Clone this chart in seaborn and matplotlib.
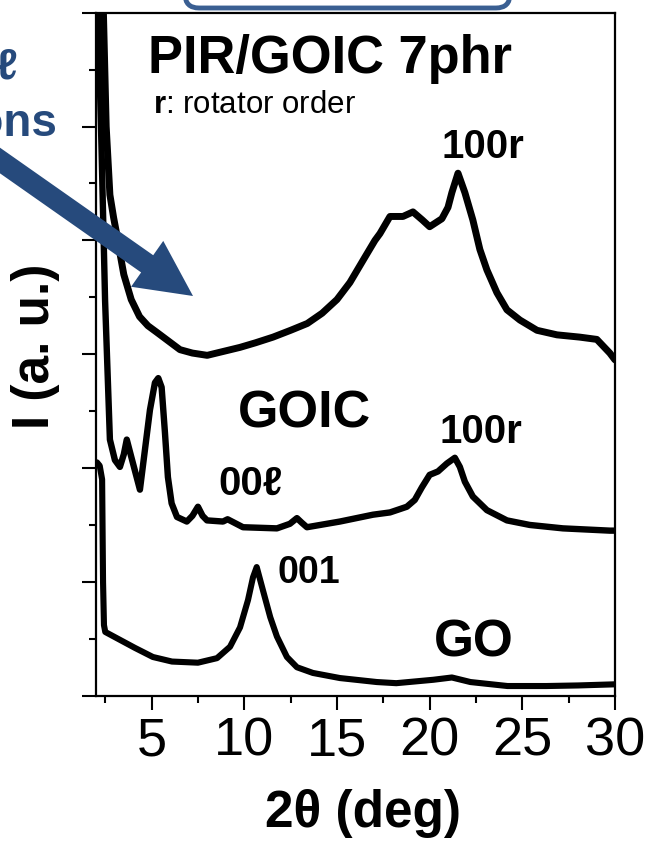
import matplotlib
matplotlib.use("Agg")
import matplotlib.pyplot as plt
import matplotlib.transforms as mtransforms
from matplotlib.patches import FancyBboxPatch, Polygon
from matplotlib.ticker import MultipleLocator, NullFormatter
import numpy as np
import pandas as pd
import seaborn as sns

# ---------------- data ----------------
go_x = [2.05, 2.2, 2.33, 2.38, 2.43, 2.5, 3.3, 4.1, 5.07, 6.1, 7.5, 8.53, 9.23, 9.77,
        10.2, 10.47, 10.67, 11.0, 11.4, 11.76, 12.3, 12.84, 13.7, 15.16, 17.15, 18.2,
        20.2, 21.2, 22.2, 24.2, 26.3, 28.0, 30.0]
go_y = [2.05, 2.02, 1.9, 1.0, 0.62, 0.56, 0.49, 0.42, 0.34, 0.30, 0.29, 0.33, 0.43, 0.60,
        0.84, 1.04, 1.13, 0.93, 0.69, 0.52, 0.34, 0.25, 0.20, 0.155, 0.12, 0.11,
        0.14, 0.16, 0.12, 0.085, 0.085, 0.09, 0.10]

goic_x = [2.05, 2.11, 2.3, 2.49, 2.75, 3.02, 3.29, 3.5, 3.66, 3.9, 4.37, 4.64, 4.91, 5.18,
          5.36, 5.54, 5.72, 5.88, 6.08, 6.37, 6.9, 7.2, 7.5, 7.75, 7.99, 8.85, 9.1, 9.93,
          11.76, 12.46, 12.84, 13.1, 13.38, 15.16, 16.94, 17.86, 18.77, 19.2, 19.58, 20.0,
          20.45, 20.93, 21.36, 21.63, 21.9, 22.33, 23.09, 24.17, 25.4, 27.19, 29.72, 30.0]
goic_y = [7.0, 6.0, 4.8, 3.47, 2.25, 2.07, 2.01, 2.12, 2.25, 2.1, 1.81, 2.16, 2.51, 2.75,
          2.79, 2.71, 2.31, 1.92, 1.69, 1.57, 1.53, 1.58, 1.66, 1.58, 1.54, 1.53, 1.55, 1.48,
          1.47, 1.51, 1.56, 1.52, 1.48, 1.53, 1.59, 1.61, 1.66, 1.72, 1.83, 1.94,
          1.97, 2.04, 2.09, 2.01, 1.88, 1.75, 1.63, 1.54, 1.50, 1.47, 1.45, 1.45]

pir_x = [2.3, 2.4, 2.55, 2.75, 2.95, 3.1, 3.3, 3.5, 3.9, 4.35, 4.8, 5.3, 6.53, 7.2, 8.0,
         9.77, 10.6, 11.55, 12.5, 13.4, 14.2, 15.0, 15.7, 16.5, 17.05, 17.32, 17.86,
         18.56, 19.1, 19.6, 20.0, 20.66, 20.99, 21.2, 21.53, 21.9, 22.33, 22.71, 23.09,
         23.63, 24.17, 24.87, 25.79, 26.87, 28.1, 29.02, 29.72, 30.0]
pir_y = [7.0, 6.0, 5.0, 4.4, 4.2, 4.07, 3.88, 3.7, 3.48, 3.33, 3.25, 3.19, 3.04, 3.01, 2.99,
         3.06, 3.1, 3.15, 3.21, 3.27, 3.36, 3.48, 3.63, 3.85, 4.0, 4.06, 4.21,
         4.21, 4.25, 4.18, 4.12, 4.19, 4.29, 4.42, 4.59, 4.42, 4.18, 3.92, 3.74,
         3.54, 3.39, 3.30, 3.21, 3.17, 3.15, 3.13, 3.01, 2.95]

x_ticks = [5, 10, 15, 20, 25, 30]
x_tick_labels = ["5", "10", "15", "20", "25", "30"]

# ---------------- style ----------------
sns.set_style("ticks")
plt.rcParams["font.family"] = ["Liberation Sans", "DejaVu Sans"]
plt.rcParams["mathtext.fontset"] = "custom"
plt.rcParams["mathtext.bf"] = "Liberation Sans:bold"
plt.rcParams["mathtext.rm"] = "Liberation Sans"
plt.rcParams["text.color"] = "black"
plt.rcParams["axes.labelcolor"] = "black"
plt.rcParams["xtick.color"] = "black"
plt.rcParams["ytick.color"] = "black"

W, H = 646, 841
fig = plt.figure(figsize=(W / 100, H / 100), dpi=100)
ax = fig.add_axes([96 / W, 1 - 695.7 / H, (615 - 96) / W, (695.7 - 12.7) / H])

for xs, ys, lw in [(go_x, go_y, 4.4), (goic_x, goic_y, 4.6), (pir_x, pir_y, 5.0)]:
    df = pd.DataFrame({"x": xs, "y": ys})
    sns.lineplot(data=df, x="x", y="y", ax=ax, color="black", lw=lw,
                 sort=False, estimator=None, solid_joinstyle="round",
                 solid_capstyle="round")

ax.set_xlim(2, 30)
ax.set_ylim(0, 6.0)
ax.set_xticks(x_ticks)
ax.set_xticklabels(x_tick_labels)
ax.xaxis.set_minor_locator(MultipleLocator(2.5))
ax.yaxis.set_major_locator(MultipleLocator(1))
ax.yaxis.set_minor_locator(MultipleLocator(0.5))
ax.yaxis.set_major_formatter(NullFormatter())
ax.tick_params(axis="both", which="major", direction="out", length=10, width=1.5,
               labelsize=39, pad=5, color="black", labelcolor="black")
ax.tick_params(axis="both", which="minor", direction="out", length=5, width=1.5,
               color="black")
for s in ax.spines.values():
    s.set_visible(True)
    s.set_linewidth(1.6)
    s.set_color("black")

ax.set_xlabel("2θ (deg)", fontsize=37, fontweight="bold", color="black")
ax.xaxis.set_label_coords(0.514, -0.137)
ax.set_ylabel("I (a. u.)", fontsize=37, fontweight="bold", color="black")
ax.yaxis.set_label_coords(-0.069, 0.511)

# ---------------- annotations ----------------
ax.text(14.65, 5.472, "PIR/GOIC 7phr", fontsize=37.8, fontweight="bold",
        ha="center", va="baseline", color="black")
ax.text(5.07, 5.12, r"$\mathbf{r}$: rotator order", fontsize=22.5,
        ha="left", va="baseline", color="black")
ax.text(22.87, 4.724, "100r", fontsize=29, fontweight="bold", ha="center",
        va="baseline", color="black")
ax.text(22.77, 2.22, "100r", fontsize=29, fontweight="bold", ha="center",
        va="baseline", color="black")
ax.text(13.25, 2.352, "GOIC", fontsize=37.5, fontweight="bold", ha="center",
        va="baseline", color="black")
ax.text(10.33, 1.764, "00ℓ", fontsize=29, fontweight="bold", ha="center",
        va="baseline", color="black")
ax.text(13.49, 0.99, "001", fontsize=27, fontweight="bold", ha="center",
        va="baseline", color="black")
ax.text(22.39, 0.34, "GO", fontsize=37, fontweight="bold", ha="center",
        va="baseline", color="black")

# blue overlays (pixel coordinates, origin bottom-left)
blue = "#264A7C"
ident = mtransforms.IdentityTransform()

box = FancyBboxPatch((185, H - 8), 325, 60, boxstyle="round,pad=0,rounding_size=14",
                     transform=ident, facecolor="white", edgecolor="#3A5F92",
                     linewidth=3.5, zorder=5)
fig.patches.append(box)

fig.text(18, H - 78, "00ℓ", fontsize=31, fontweight="bold", color=blue,
         ha="right", va="baseline", transform=ident)
fig.text(58, H - 136, "reflections", fontsize=33, fontweight="bold", color=blue,
         ha="right", va="baseline", transform=ident)

# arrow polygon
tail = np.array([-15.0, H - 150.0])
tip = np.array([193.0, H - 296.0])
d = tip - tail
L = np.hypot(*d)
u = d / L
n = np.array([-u[1], u[0]])
head_len, head_hw, shaft_hw = 56.0, 28.0, 10.5
base = tip - u * head_len
pts = [tail + n * shaft_hw, base + n * shaft_hw, base + n * head_hw, tip,
       base - n * head_hw, base - n * shaft_hw, tail - n * shaft_hw]
arrow = Polygon(pts, closed=True, transform=ident, facecolor=blue, edgecolor="none",
                zorder=6)
fig.patches.append(arrow)

fig.savefig("out.png", dpi=100)
